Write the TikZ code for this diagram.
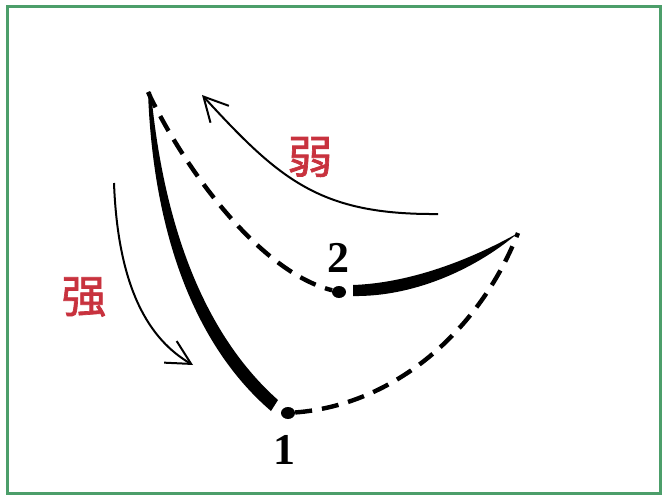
\documentclass[tikz,border=0pt]{standalone}
\usepackage{fontspec}
\setmainfont{Liberation Serif}
\newfontfamily\cjk{Noto Sans CJK SC}[AutoFakeBold=1.5]
\usetikzlibrary{arrows.meta}
\definecolor{frame}{HTML}{4C9E6A}
\definecolor{lbl}{HTML}{C8323E}
\tikzset{
  dot/.style={ellipse, fill=black, inner sep=0pt, minimum width=14pt, minimum height=12pt},
  dashline/.style={line width=4.4pt, dash pattern=on 17pt off 10pt},
  thinarrow/.style={line width=2pt, -{Straight Barb[length=24pt, width=25pt, line width=2pt]}},
  cjklabel/.style={text=lbl, font=\cjk\bfseries\fontsize{45}{47}\selectfont, inner sep=0pt},
  numlabel/.style={font=\bfseries\fontsize{44}{46}\selectfont, inner sep=0pt}
}
\usetikzlibrary{shapes.geometric}
\begin{document}
\begin{tikzpicture}[x=1pt, y=-1pt]
\useasboundingbox (0,0) rectangle (669,500);
\draw[frame, line width=3pt] (7,7) rectangle (660,493);

\coordinate (A) at (148,92);
\coordinate (B) at (518,233);
\node[dot] (p1) at (288,413) {};
\node[dot] (p2) at (339,292) {};
\node[numlabel] (n1) at (284,450) {1};
\node[numlabel] (n2) at (338,258) {2};

% thick tapered stroke A -> 1
\fill (A) .. controls (153,232) and (194,345) .. (271,411)
      -- (278,400) .. controls (206,336) and (164,230) .. (151,92) -- cycle;
% thick tapered stroke 2 -> B
\fill (353,285) .. controls (410,283) and (470,260) .. (B)
      .. controls (472,272) and (410,297) .. (353,296) -- cycle;

% dashed strokes
\draw[dashline] (A) .. controls (185,170) and (260,272) .. (p2);
\draw[dashline] (p1) .. controls (395,405) and (480,330) .. (B);

% arrows
\coordinate (w0) at (438,214);
\coordinate (w1) at (202,95);
\draw[thinarrow] (w0) .. controls (320,215) and (280,180) .. (w1);
\coordinate (s0) at (114,183);
\coordinate (s1) at (193,365);
\draw[thinarrow] (s0) .. controls (118,290) and (150,340) .. (s1);

\node[cjklabel] (weak) at (310,157) {弱};
\node[cjklabel] (strong) at (84,297) {强};
\end{tikzpicture}
\end{document}
